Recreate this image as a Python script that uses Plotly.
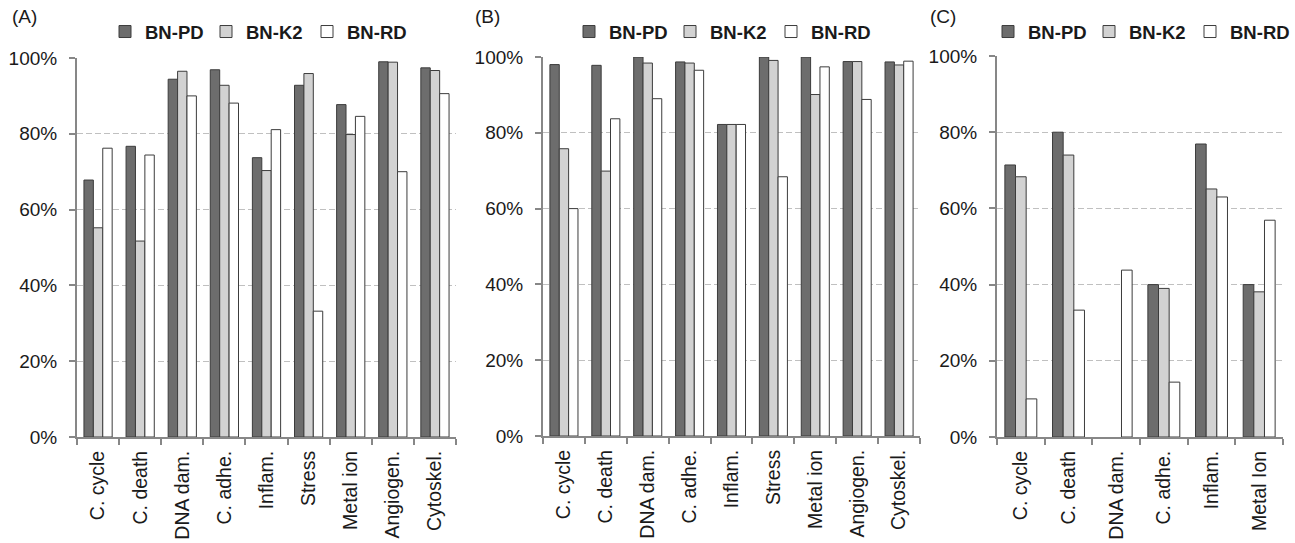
import plotly.graph_objects as go

# ---------------- data ----------------
cats_ab = ["C. cycle", "C. death", "DNA dam.", "C. adhe.", "Inflam.", "Stress",
           "Metal ion", "Angiogen.", "Cytoskel."]
cats_c = ["C. cycle", "C. death", "DNA dam.", "C. adhe.", "Inflam.", "Metal Ion"]

series_names = ["BN-PD", "BN-K2", "BN-RD"]

a_pd = [0.678, 0.767, 0.944, 0.969, 0.737, 0.928, 0.877, 0.990, 0.974]
a_k2 = [0.552, 0.517, 0.965, 0.928, 0.703, 0.959, 0.798, 0.989, 0.967]
a_rd = [0.762, 0.744, 0.900, 0.881, 0.811, 0.332, 0.846, 0.700, 0.906]

b_pd = [0.980, 0.978, 1.000, 0.987, 0.822, 1.000, 1.000, 0.988, 0.987]
b_k2 = [0.758, 0.699, 0.984, 0.984, 0.822, 0.991, 0.901, 0.988, 0.979]
b_rd = [0.600, 0.837, 0.890, 0.965, 0.822, 0.684, 0.974, 0.888, 0.989]

c_pd = [0.714, 0.800, 0.0, 0.400, 0.769, 0.400]
c_k2 = [0.683, 0.740, 0.0, 0.390, 0.651, 0.381]
c_rd = [0.100, 0.333, 0.438, 0.144, 0.630, 0.569]

panel_labels = ["(A)", "(B)", "(C)"]
y_ticks = [0, 0.2, 0.4, 0.6, 0.8, 1.0]
y_ticktext = ["0%", "20%", "40%", "60%", "80%", "100%"]

# ---------------- style ----------------
W, H = 1295, 543
FONT = "Arial, Liberation Sans, sans-serif"
colors = ["#6d6d6d", "#d2d2d2", "#ffffff"]
axis_col = "#878787"
grid_col = "#c0c0c0"


def px_x(p):
    return p / W


def px_y(p):
    return 1 - p / H


panels = [
    dict(cats=cats_ab, vals=[a_pd, a_k2, a_rd], x0=77, x1=456, y0=437, y1=58,
         legend_right=408, label_x=10),
    dict(cats=cats_ab, vals=[b_pd, b_k2, b_rd], x0=543, x1=920, y0=436, y1=57,
         legend_right=872, label_x=473),
    dict(cats=cats_c, vals=[c_pd, c_k2, c_rd], x0=997, x1=1283, y0=437, y1=56,
         legend_right=1291, label_x=928),
]

fig = go.Figure()
layout = dict(
    width=W, height=H,
    margin=dict(l=0, r=0, t=0, b=0),
    paper_bgcolor="white", plot_bgcolor="white",
    barmode="group", bargap=0.33, bargroupgap=0.0,
    font=dict(family=FONT, size=18.5, color="#1a1a1a"),
    annotations=[],
)

for i, p in enumerate(panels):
    n = "" if i == 0 else str(i + 1)
    leg = "legend" if i == 0 else f"legend{i + 1}"
    for s, name in enumerate(series_names):
        vals = p["vals"][s]
        fig.add_trace(go.Bar(
            x=p["cats"], y=vals, name=name,
            marker=dict(color=colors[s],
                        line=dict(color="#3c3c3c",
                                  width=[1 if v > 0 else 0 for v in vals])),
            xaxis="x" + n, yaxis="y" + n, legend=leg,
            hovertemplate="%{x}: %{y:.0%}<extra>" + name + "</extra>",
        ))
    layout["xaxis" + n] = dict(
        domain=[px_x(p["x0"]), px_x(p["x1"])], anchor="y" + n,
        type="category", showline=True, linecolor=axis_col, linewidth=2,
        ticks="outside", tickson="boundaries", ticklen=6, tickwidth=2,
        tickcolor=axis_col, tickangle=-90, showgrid=False,
        tickfont=dict(family=FONT, size=19.5, color="#1a1a1a"),
        ticklabelstandoff=4, automargin=False, fixedrange=True,
    )
    layout["yaxis" + n] = dict(
        domain=[px_y(p["y0"]), px_y(p["y1"])], anchor="x" + n,
        range=[0, 1.0], tickvals=y_ticks, ticktext=y_ticktext,
        showline=True, linecolor=axis_col, linewidth=2,
        ticks="outside", ticklen=6, tickwidth=2, tickcolor=axis_col,
        showgrid=True, gridcolor=grid_col, gridwidth=1, griddash="6px,3px",
        zeroline=False,
        tickfont=dict(family=FONT, size=19, color="#1a1a1a"),
        ticklabelstandoff=8, automargin=False, fixedrange=True,
    )
    layout[leg] = dict(
        orientation="h", x=px_x(p["legend_right"]), xanchor="right",
        y=px_y(13), yanchor="top", bgcolor="rgba(0,0,0,0)",
        font=dict(family=FONT, size=18.5, color="#1a1a1a", weight="bold"),
        itemwidth=30, entrywidth=56, tracegroupgap=0, traceorder="normal",
    )
    layout["annotations"].append(dict(
        text=panel_labels[i], x=px_x(p["label_x"]), y=px_y(4),
        xref="paper", yref="paper", xanchor="left", yanchor="top",
        showarrow=False, font=dict(family=FONT, size=19, color="#1a1a1a"),
    ))

fig.update_layout(**layout)
fig.write_html("out.html",
               config={"displayModeBar": False},
               post_script="document.body.style.margin='0px';")
